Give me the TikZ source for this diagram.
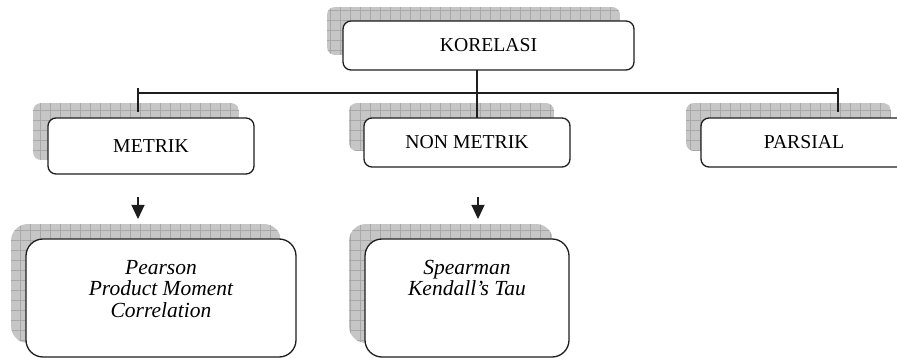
\documentclass[tikz,border=0pt]{standalone}
\usepackage{fontspec}
\setmainfont{Liberation Serif}
\usetikzlibrary{arrows.meta}
\definecolor{shfill}{HTML}{C6C6C6}
\definecolor{shgrid}{HTML}{A8A8A8}
\definecolor{ink}{HTML}{1E1E1E}
\newcommand{\gridshadow}[5]{%
  \begin{scope}
    \clip[rounded corners=#5] (#1,#2) rectangle (#3,#4);
    \fill[shfill] (#1,#2) rectangle (#3,#4);
    \draw[shgrid, line width=0.7pt, step=10pt] (#1,#2) grid (#3,#4);
  \end{scope}}
\begin{document}
\begin{tikzpicture}[x=1pt,y=-1pt,
  box/.style={draw=ink, line width=1.3pt, fill=white, rounded corners=8pt,
    inner sep=0pt, outer sep=0pt, font=\fontsize{19.7}{22}\selectfont},
  bigbox/.style={draw=ink, line width=1.3pt, fill=white, rounded corners=17pt,
    inner sep=0pt, outer sep=0pt},
  boxtext/.style={inner sep=0pt, align=center, anchor=north,
    font=\fontsize{21.5}{21.5}\selectfont\itshape},
  conn/.style={draw=ink, line width=1.1pt},
  arr/.style={draw=ink, line width=1.1pt, -{Triangle[width=13pt,length=14pt]}}]
\useasboundingbox (0,0) rectangle (897,358);

% shadows
\gridshadow{327}{7}{620}{55}{8pt}
\gridshadow{33}{103}{239}{160}{8pt}
\gridshadow{349}{103}{554}{151}{8pt}
\gridshadow{686}{103}{891}{151}{8pt}
\gridshadow{11}{224}{281}{343}{17pt}
\gridshadow{349}{224}{553}{343}{17pt}

% boxes
\node[box, minimum width=291pt, minimum height=49pt] (kor) at (488.5,45.5) {KORELASI};
\node[box, minimum width=206pt, minimum height=56pt] (met) at (151,146) {METRIK};
\node[box, minimum width=206pt, minimum height=49pt] (non) at (467,142.5) {NON METRIK};
\node[box, minimum width=206pt, minimum height=49pt] (par) at (804,142.5) {PARSIAL};
\node[bigbox, minimum width=270pt, minimum height=118pt] (pbox) at (161,298) {};
\node[bigbox, minimum width=204pt, minimum height=118pt] (sbox) at (467,298) {};
\node[boxtext] (ptext) at (161,260) {Pearson\\Product Moment\\Correlation};
\node[boxtext] (stext) at (467,260) {Spearman\\Kendall’s Tau};

% connectors
\coordinate (busL) at (138,93);
\coordinate (busR) at (838,93);
\coordinate (mid) at (477,93);
\coordinate (tlA) at (138,88);
\coordinate (tlB) at (138,112);
\coordinate (trA) at (838,88);
\coordinate (trB) at (838,112);
\draw[conn] (busL) -- (busR);
\draw[conn] (tlA) -- (tlB);
\draw[conn] (trA) -- (trB);
\draw[conn] (kor.south -| mid) -- (non.north -| mid);

\coordinate (a1s) at (138,197);
\coordinate (a1e) at (138,219);
\coordinate (a2s) at (478,197);
\coordinate (a2e) at (478,219);
\draw[arr] (a1s) -- (a1e);
\draw[arr] (a2s) -- (a2e);
\end{tikzpicture}
\end{document}
